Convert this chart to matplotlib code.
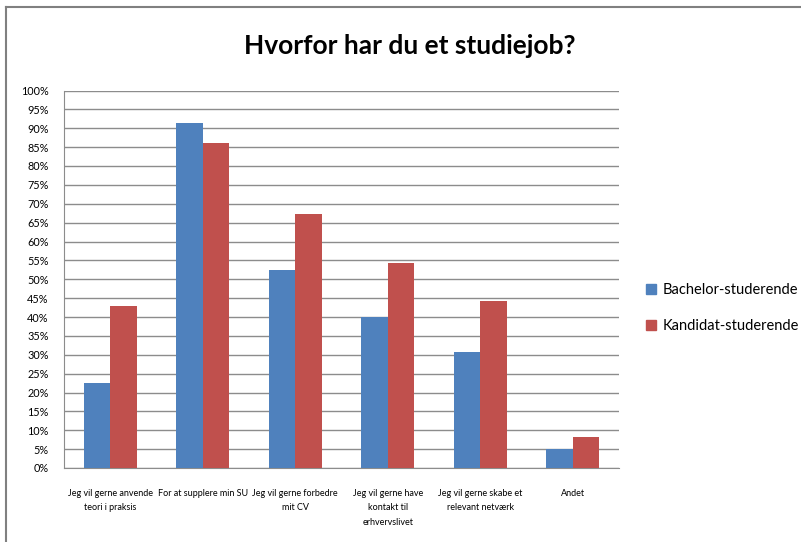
import matplotlib
matplotlib.use('Agg')
import numpy as np
from matplotlib import pyplot as plt
from matplotlib.lines import Line2D
from matplotlib.patches import Patch

kategorier = ['Jeg vil gerne anvende\nteori i praksis',
              'For at supplere min SU',
              'Jeg vil gerne forbedre\nmit CV',
              'Jeg vil gerne have\nkontakt til\nerhvervslivet',
              'Jeg vil gerne skabe et\nrelevant netværk',
              'Andet']
bachelor = [22.4, 91.3, 52.4, 40.0, 30.8, 5.0]
kandidat = [43.0, 86.2, 67.4, 54.3, 44.3, 8.1]
serier = ['Bachelor-studerende', 'Kandidat-studerende']
yticks = list(range(0, 101, 5))

blaa = '#4F81BD'
roed = '#C0504D'
font = ['Lato', 'DejaVu Sans']

fig = plt.figure(figsize=(8.01, 5.42), dpi=100)
ax = fig.add_axes([64 / 801, 1 - 468 / 542, 555 / 801, (468 - 90.5) / 542])

x = np.arange(len(kategorier))
w = 0.286
ax.bar(x - w / 2, bachelor, w, color=blaa, zorder=3)
ax.bar(x + w / 2, kandidat, w, color=roed, zorder=3)

ax.set_xlim(-0.5, len(kategorier) - 0.5)
ax.set_ylim(0, 100)
ax.set_yticks(yticks)
ax.set_yticklabels([f'{t}%' for t in yticks], fontsize=7.8, family=font)
ax.set_xticks(x)
ax.set_xticklabels(kategorier, fontsize=6.5, family=font, linespacing=1.8,
                   va='top')
ax.tick_params(axis='y', length=0, pad=11)
ax.tick_params(axis='x', length=0, pad=15)
ax.grid(axis='y', color='#8c8c8c', linewidth=1.0, zorder=0)
for s in ['top', 'right']:
    ax.spines[s].set_visible(False)
ax.spines['left'].set_color('#8c8c8c')
ax.spines['bottom'].set_color('#8c8c8c')

fig.text(410 / 801, 1 - 46 / 542, 'Hvorfor har du et studiejob?',
         ha='center', va='center', fontsize=19, family=font, weight='bold')

handles = [Patch(color=blaa), Patch(color=roed)]
fig.legend(handles, serier, loc='center left',
           bbox_to_anchor=(633 / 801, 1 - 308 / 542), frameon=False,
           prop={'family': font, 'size': 10.5}, handlelength=0.7,
           handleheight=0.7, handletextpad=0.4, labelspacing=1.5)

# ramme rundt om diagrammet
fig.add_artist(Line2D([5.5 / 801, 5.5 / 801], [0, 1 - 6.5 / 542],
                      transform=fig.transFigure, color='#808080', lw=1.5))
fig.add_artist(Line2D([5.5 / 801, 1], [1 - 6.5 / 542, 1 - 6.5 / 542],
                      transform=fig.transFigure, color='#808080', lw=1.5))

fig.savefig('out.png', dpi=100)
